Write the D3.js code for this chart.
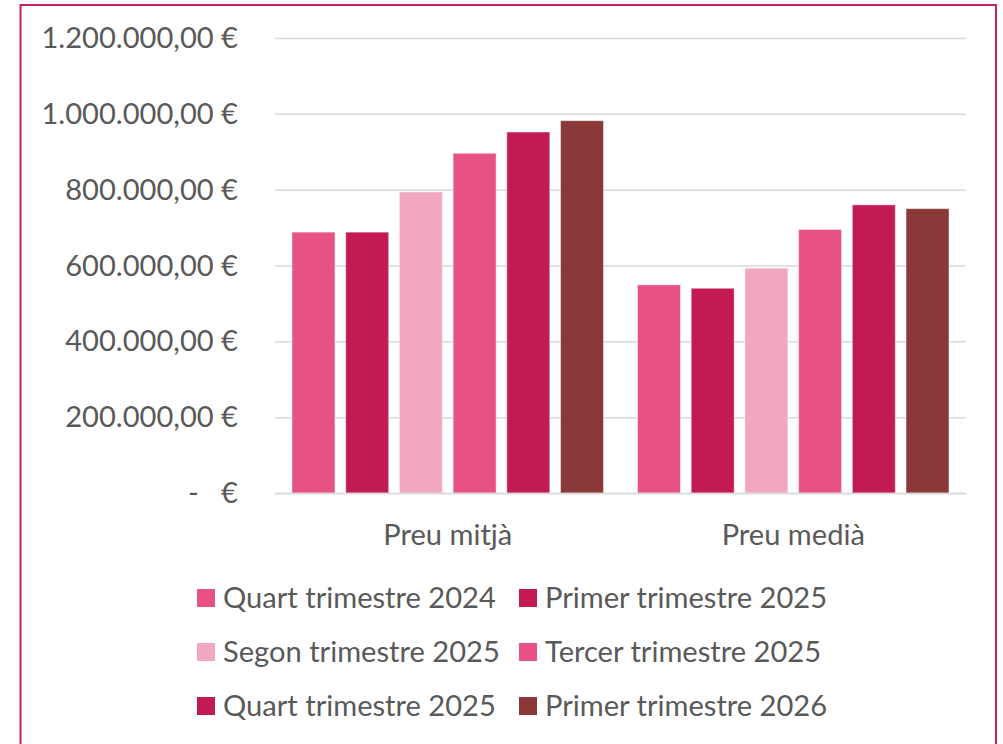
<!DOCTYPE html>
<html>
<head>
<meta charset="utf-8">
<script src="https://cdn.jsdelivr.net/npm/d3@7"></script>
<style>
  html, body { margin: 0; padding: 0; background: #fff; }
  svg { display: block; font-family: "Lato", "Liberation Sans", sans-serif; }
</style>
</head>
<body>
<svg id="chart" width="1003" height="744"></svg>
<script>
// ---- data ----
const categories = ["Preu mitjà", "Preu medià"];
const seriesNames = [
  "Quart trimestre 2024",
  "Primer trimestre 2025",
  "Segon trimestre 2025",
  "Tercer trimestre 2025",
  "Quart trimestre 2025",
  "Primer trimestre 2026"
];
const seriesColors = ["#E75283", "#C11B51", "#F2A7C1", "#E75283", "#C11B51", "#8B3838"];
const quart2024  = [688000, 549000];
const primer2025 = [688000, 540000];
const segon2025  = [794000, 593000];
const tercer2025 = [896000, 695000];
const quart2025  = [952000, 760000];
const primer2026 = [982000, 750000];
const seriesValues = [quart2024, primer2025, segon2025, tercer2025, quart2025, primer2026];
const yTicks = [0, 200000, 400000, 600000, 800000, 1000000, 1200000];
const yTickLabels = ["-   €", "200.000,00 €", "400.000,00 €", "600.000,00 €", "800.000,00 €", "1.000.000,00 €", "1.200.000,00 €"];

// ---- layout ----
const svg = d3.select("#chart");
const textColor = "#595959";
const FONT = "Lato";
const plot = { left: 275, right: 966, top: 38, bottom: 493 };

// size text so a legend entry matches the reference width (273px)
const probe = svg.append("text").attr("font-family", FONT).attr("font-size", 100).text(seriesNames[0]);
const fs = Math.round(100 * 273 / probe.node().getComputedTextLength() * 10) / 10;
probe.remove();

svg.append("rect")
  .attr("x", 20.5).attr("y", 5).attr("width", 975.5).attr("height", 800)
  .attr("fill", "#fff").attr("stroke", "#C8235B").attr("stroke-width", 2);

const y = d3.scaleLinear().domain([0, 1200000]).range([plot.bottom, plot.top]);
const x0 = d3.scaleBand().domain(categories).range([plot.left, plot.right]).padding(0);
const x1 = d3.scaleBand().domain(d3.range(seriesNames.length))
  .range([17, x0.bandwidth() - 17]).paddingInner(0.2).paddingOuter(0);

// gridlines
const grid = svg.append("g")
  .attr("transform", `translate(${plot.left},0)`)
  .call(d3.axisRight(y).tickValues(yTicks).tickSize(plot.right - plot.left).tickFormat(""));
grid.select(".domain").remove();
grid.selectAll("line").attr("stroke", "#D9D9D9").attr("stroke-width", 1.5);

// y axis labels
const yAxis = svg.append("g")
  .attr("transform", `translate(238,0)`)
  .call(d3.axisLeft(y).tickValues(yTicks).tickSize(0).tickPadding(0)
    .tickFormat((d, i) => yTickLabels[i]));
yAxis.select(".domain").remove();
yAxis.selectAll("text")
  .attr("fill", textColor).attr("font-size", fs).attr("font-family", FONT)
  .style("white-space", "pre").attr("dy", "0.33em");

// bars
const groups = svg.append("g").selectAll("g")
  .data(categories).join("g")
  .attr("transform", d => `translate(${x0(d)},0)`);
groups.selectAll("rect")
  .data((c, ci) => seriesValues.map((vals, si) => ({ si, v: vals[ci] })))
  .join("rect")
  .attr("x", d => x1(d.si))
  .attr("width", x1.bandwidth())
  .attr("y", d => y(d.v))
  .attr("height", d => y(0) - y(d.v))
  .attr("fill", d => seriesColors[d.si])
  .attr("stroke", "rgba(255,255,255,0.45)").attr("stroke-width", 1);

// x axis line + labels
const xAxis = svg.append("g")
  .attr("transform", `translate(0,${plot.bottom})`)
  .call(d3.axisBottom(x0).tickSize(0).tickPadding(0));
xAxis.select(".domain").attr("stroke", "#D9D9D9").attr("stroke-width", 1.5);
xAxis.selectAll("text")
  .attr("fill", textColor).attr("font-size", fs).attr("font-family", FONT)
  .attr("dy", 0).attr("y", 52);

// legend
const legendCols = [197, 519];
const legendRows = [598, 652, 706];
const legend = svg.append("g").selectAll("g")
  .data(seriesNames).join("g")
  .attr("transform", (d, i) => `translate(${legendCols[i % 2]},${legendRows[Math.floor(i / 2)]})`);
legend.append("rect")
  .attr("x", 0).attr("y", -9).attr("width", 18).attr("height", 18)
  .attr("fill", (d, i) => seriesColors[i]);
legend.append("text")
  .attr("x", 26).attr("y", 0).attr("dy", "0.35em")
  .attr("fill", textColor).attr("font-size", fs).attr("font-family", FONT)
  .text(d => d);
</script>
</body>
</html>
